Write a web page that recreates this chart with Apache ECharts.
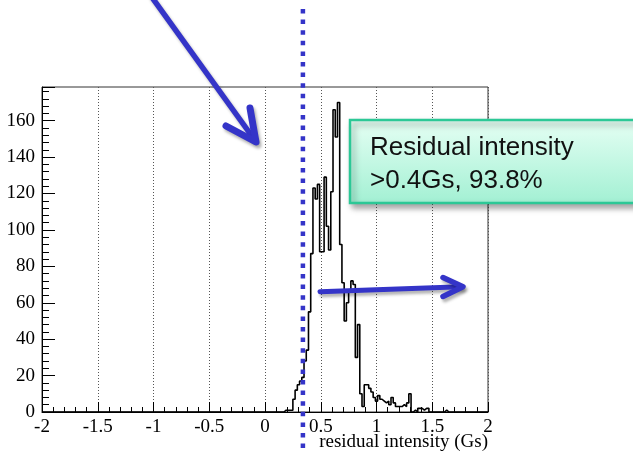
<!DOCTYPE html>
<html><head><meta charset="utf-8">
<script src="https://cdn.jsdelivr.net/npm/echarts@6/dist/echarts.min.js"></script>
<style>html,body{margin:0;padding:0;background:#fff}#c{width:633px;height:454px}</style>
</head><body><div id="c"></div>
<script>
// ---- data ----
const binWidth = 0.02;
const binCenters = [0.16,0.18,0.20,0.22,0.24,0.26,0.28,0.30,0.32,0.34,0.36,0.38,0.40,0.42,0.44,0.46,0.48,0.50,0.52,0.54,0.56,0.58,0.60,0.62,0.64,0.66,0.68,0.70,0.72,0.74,0.76,0.78,0.80,0.82,0.84,0.86,0.88,0.90,0.92,0.94,0.96,0.98,1.00,1.02,1.04,1.06,1.08,1.10,1.12,1.14,1.16,1.18,1.20,1.22,1.24,1.26,1.28,1.30,1.32,1.34,1.36,1.38,1.40,1.42,1.44,1.46,1.48,1.50,1.52,1.54,1.56,1.58,1.60,1.62,1.64];
const counts =     [0,1,1,1,1,7,12,15,17,19,28,34,55,87,123,117,125,88,88,129,102,89,121,166,151,170,92,71,50,60,67,72,70,30,48,10,3,15,15,13,11,8,6,9,7,6,5,6,4,8,5,3,3,3,4,3,5,10,0,1,0,2,2,1,2,2,0,0,0,0,0,0,0,1,0];
const xTickLabels = ['-2','-1.5','-1','-0.5','0','0.5','1','1.5','2'];
const xTickValues = [-2,-1.5,-1,-0.5,0,0.5,1,1.5,2];
const yTickLabels = ['0','20','40','60','80','100','120','140','160'];
const xRange = [-2, 2];
const yMax = 178.5;
const cutValue = 0.34;
const xTitle = 'residual intensity (Gs)';
const boxLines = ['Residual intensity', '>0.4Gs, 93.8%'];

// ---- build step points ----
const pts = [[xRange[0], 0]];
for (let i = 0; i < binCenters.length; i++) {
  pts.push([binCenters[i] - binWidth / 2, counts[i]]);
}
pts.push([binCenters[binCenters.length - 1] + binWidth / 2, 0]);
pts.push([xRange[1], 0]);

const serif = 'Liberation Serif';
const blue = '#3434c8';
const shadow = {shadowBlur: 3, shadowOffsetX: 2, shadowOffsetY: 3, shadowColor: 'rgba(0,0,0,0.3)'};

const chart = echarts.init(document.getElementById('c'), null, {renderer: 'canvas'});
chart.setOption({
  animation: false,
  grid: {left: 42, right: 145, top: 87, bottom: 42, show: true, borderColor: '#333', borderWidth: 1},
  xAxis: {
    type: 'value', min: xRange[0], max: xRange[1], interval: 0.5,
    name: xTitle, nameLocation: 'end', nameGap: 0, nameMoveOverlap: false,
    nameTextStyle: {fontFamily: serif, fontSize: 19, color: '#000', align: 'right', verticalAlign: 'top', padding: [21, 0, 0, 0]},
    axisLine: {onZero: false, lineStyle: {color: '#000', width: 1}},
    axisTick: {inside: true, length: 10, lineStyle: {color: '#000'}},
    minorTick: {show: true, splitNumber: 5, length: 5, lineStyle: {color: '#000'}},
    splitLine: {show: true, lineStyle: {type: [1, 2], color: '#555', width: 1}},
    axisLabel: {fontFamily: serif, fontSize: 19, color: '#000', margin: 6,
      formatter: v => { const k = xTickValues.findIndex(t => Math.abs(t - v) < 1e-9); return k >= 0 ? xTickLabels[k] : ''; }}
  },
  yAxis: {
    type: 'value', min: 0, max: yMax, interval: 20,
    axisLine: {show: true, onZero: false, lineStyle: {color: '#000', width: 1}},
    axisTick: {show: true, inside: true, length: 13, lineStyle: {color: '#000'}},
    minorTick: {show: true, splitNumber: 5, length: 7, lineStyle: {color: '#000'}},
    splitLine: {show: false},
    axisLabel: {fontFamily: serif, fontSize: 19, color: '#000', margin: 7, showMaxLabel: false,
      formatter: v => { const k = Math.round(v / 20); return (Math.abs(v - k * 20) < 1e-9 && yTickLabels[k] !== undefined) ? yTickLabels[k] : ''; }}
  },
  series: [{
    type: 'line', step: 'end', data: pts, symbol: 'none', silent: true,
    lineStyle: {color: '#000', width: 1.6}, z: 3
  }]
});

const cx = chart.convertToPixel({gridIndex: 0}, [cutValue, 0])[0];

chart.setOption({
  graphic: [
    // dotted cut line
    {type: 'line', z: 50, shape: {x1: cx, y1: 9, x2: cx, y2: 460},
      style: {stroke: blue, lineWidth: 4.5, lineDash: [4.5, 6.1], lineCap: 'butt'}},
    // top-left arrow
    {type: 'line', z: 60, shape: {x1: 151, y1: -4, x2: 254, y2: 139},
      style: Object.assign({stroke: blue, lineWidth: 5.5, lineCap: 'round'}, shadow)},
    {type: 'polyline', z: 60, shape: {points: [[250, 108], [256, 142], [226, 126]]},
      style: Object.assign({stroke: blue, lineWidth: 7, lineCap: 'round', lineJoin: 'round', fill: null}, shadow)},
    // horizontal arrow
    {type: 'line', z: 60, shape: {x1: 320, y1: 291.7, x2: 461, y2: 286.8},
      style: Object.assign({stroke: blue, lineWidth: 5, lineCap: 'round'}, shadow)},
    {type: 'polyline', z: 60, shape: {points: [[443, 277.5], [463, 286.7], [443, 296.5]]},
      style: Object.assign({stroke: blue, lineWidth: 5.5, lineCap: 'round', lineJoin: 'round', fill: null}, shadow)},
    // green box
    {type: 'rect', z: 70, shape: {x: 350, y: 120, width: 320, height: 83},
      style: {
        fill: new echarts.graphic.LinearGradient(0, 0, 0, 1, [{offset: 0, color: '#e6fff4'}, {offset: 1, color: '#a2f0d3'}]),
        stroke: '#2cc896', lineWidth: 2.5,
        shadowBlur: 6, shadowOffsetX: 3, shadowOffsetY: 4, shadowColor: 'rgba(0,0,0,0.35)'
      }},
    {type: 'text', z: 71, style: {x: 370, y: 148, text: boxLines[0], font: '26px "Liberation Sans"', fill: '#111', verticalAlign: 'middle', align: 'left'}},
    {type: 'text', z: 71, style: {x: 370, y: 181, text: boxLines[1], font: '26px "Liberation Sans"', fill: '#111', verticalAlign: 'middle', align: 'left'}}
  ]
});
</script></body></html>
